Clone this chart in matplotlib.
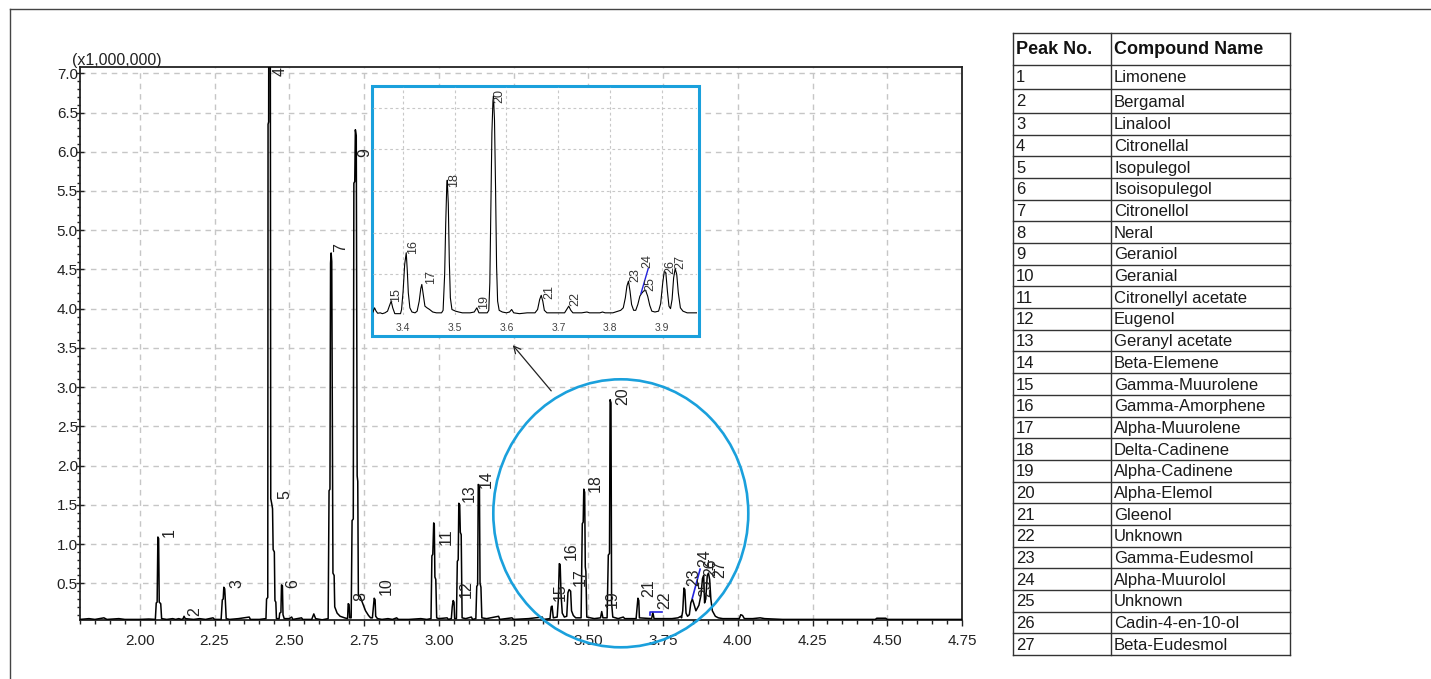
import matplotlib
matplotlib.use('Agg')
import matplotlib.pyplot as plt
from matplotlib.patches import Rectangle, Ellipse
from matplotlib.ticker import MultipleLocator

plt.rcParams['font.family'] = ['Liberation Sans', 'DejaVu Sans']

# Chromatogram, retention time (min) vs intensity (x1,000,000)
main_trace = [
    (1.800, 0.04), (1.830, 0.05), (1.850, 0.04), (1.880, 0.06), (1.890, 0.04), (1.930, 0.05), (1.950, 0.04),
    (2.000, 0.04), (2.030, 0.045),
    # peak 1
    (2.052, 0.04), (2.055, 0.25), (2.058, 0.26), (2.0605, 1.09), (2.063, 1.07), (2.065, 0.26), (2.070, 0.24),
    (2.073, 0.05), (2.090, 0.04), (2.110, 0.05), (2.120, 0.04), (2.130, 0.05), (2.140, 0.04),
    # peak 2
    (2.145, 0.05), (2.148, 0.08), (2.152, 0.05), (2.180, 0.04), (2.200, 0.05), (2.220, 0.04), (2.245, 0.06),
    (2.250, 0.04),
    # peak 3
    (2.272, 0.04), (2.276, 0.29), (2.279, 0.30), (2.281, 0.45), (2.284, 0.43), (2.286, 0.29), (2.289, 0.05),
    (2.300, 0.04), (2.330, 0.05), (2.366, 0.07), (2.370, 0.04), (2.400, 0.04), (2.420, 0.05),
    # peaks 4 and 5
    (2.422, 0.05), (2.424, 0.30), (2.428, 0.32), (2.429, 6.35), (2.431, 6.38), (2.432, 9.50), (2.436, 9.50),
    (2.438, 1.58), (2.441, 1.52), (2.444, 1.45), (2.446, 0.93), (2.450, 0.90), (2.452, 0.28), (2.455, 0.26),
    (2.457, 0.05),
    # peak 6
    (2.466, 0.05), (2.468, 0.12), (2.472, 0.13), (2.474, 0.48), (2.477, 0.47), (2.479, 0.10), (2.483, 0.05),
    (2.500, 0.05), (2.508, 0.07), (2.512, 0.04), (2.541, 0.06), (2.545, 0.04), (2.575, 0.04), (2.582, 0.11),
    (2.588, 0.05), (2.610, 0.035),
    # peak 7
    (2.630, 0.05), (2.633, 1.68), (2.636, 1.70), (2.638, 4.58), (2.640, 4.71), (2.642, 4.60), (2.646, 0.63),
    (2.650, 0.60), (2.652, 0.20), (2.660, 0.12), (2.670, 0.08), (2.685, 0.06),
    (2.695, 0.05), (2.697, 0.24), (2.700, 0.23), (2.702, 0.06),
    # peaks 9 and 8
    (2.707, 0.06), (2.710, 1.30), (2.714, 1.32), (2.716, 5.60), (2.719, 5.62), (2.721, 6.28), (2.724, 6.20),
    (2.727, 1.87), (2.729, 1.80), (2.731, 0.35), (2.737, 0.33), (2.745, 0.25), (2.755, 0.15), (2.765, 0.09),
    (2.772, 0.06),
    # peak 10
    (2.778, 0.06), (2.781, 0.18), (2.784, 0.31), (2.787, 0.29), (2.789, 0.08), (2.795, 0.05),
    (2.810, 0.04), (2.830, 0.05), (2.845, 0.04), (2.859, 0.06), (2.865, 0.04), (2.900, 0.04), (2.940, 0.05),
    (2.960, 0.04),
    # peak 11
    (2.974, 0.05), (2.977, 0.85), (2.980, 0.87), (2.983, 1.27), (2.985, 1.25), (2.987, 0.58), (2.990, 0.55),
    (2.993, 0.06), (3.000, 0.05), (3.028, 0.06), (3.032, 0.04),
    # peak 12
    (3.042, 0.05), (3.045, 0.20), (3.048, 0.28), (3.051, 0.26), (3.053, 0.05),
    # peak 13
    (3.059, 0.05), (3.062, 0.78), (3.065, 0.80), (3.067, 1.52), (3.070, 1.50), (3.072, 1.15), (3.075, 1.12),
    (3.078, 0.06), (3.090, 0.05), (3.109, 0.07), (3.113, 0.04),
    # peak 14
    (3.124, 0.05), (3.127, 0.46), (3.130, 0.48), (3.132, 1.76), (3.136, 1.74), (3.138, 0.50), (3.141, 0.45),
    (3.144, 0.06), (3.160, 0.05), (3.200, 0.08), (3.204, 0.04), (3.245, 0.06), (3.250, 0.04), (3.300, 0.05),
    (3.346, 0.07), (3.350, 0.04),
    # peaks 15-17
    (3.372, 0.05), (3.376, 0.20), (3.379, 0.21), (3.383, 0.06), (3.396, 0.07), (3.400, 0.30), (3.403, 0.75),
    (3.406, 0.74), (3.409, 0.35), (3.413, 0.12), (3.420, 0.07), (3.428, 0.08), (3.432, 0.38), (3.436, 0.42),
    (3.441, 0.40), (3.444, 0.15), (3.450, 0.09), (3.458, 0.06),
    # peak 18
    (3.476, 0.06), (3.480, 1.26), (3.483, 1.28), (3.485, 1.70), (3.488, 1.66), (3.490, 0.71), (3.492, 0.65),
    (3.495, 0.07), (3.520, 0.05),
    # peak 19
    (3.541, 0.06), (3.545, 0.14), (3.549, 0.06),
    # peak 20
    (3.563, 0.06), (3.567, 0.86), (3.571, 0.88), (3.573, 2.84), (3.576, 2.80), (3.578, 0.25), (3.582, 0.07),
    (3.600, 0.05), (3.617, 0.07), (3.622, 0.05), (3.650, 0.05),
    # peaks 21 and 22
    (3.660, 0.05), (3.663, 0.18), (3.666, 0.31), (3.669, 0.28), (3.671, 0.06), (3.712, 0.05), (3.716, 0.13),
    (3.720, 0.05), (3.750, 0.05), (3.780, 0.05), (3.800, 0.06), (3.810, 0.08),
    # peaks 23-27
    (3.812, 0.06), (3.816, 0.15), (3.820, 0.44), (3.823, 0.42), (3.827, 0.12), (3.832, 0.08), (3.838, 0.10),
    (3.843, 0.25), (3.848, 0.30), (3.853, 0.24), (3.860, 0.15), (3.870, 0.22), (3.877, 0.35), (3.882, 0.56),
    (3.886, 0.60), (3.889, 0.25), (3.893, 0.30), (3.898, 0.60), (3.902, 0.63), (3.906, 0.55), (3.910, 0.30),
    (3.915, 0.15), (3.925, 0.08), (3.935, 0.06), (3.950, 0.05),
    (3.980, 0.05), (4.005, 0.05), (4.010, 0.10), (4.016, 0.09), (4.022, 0.05), (4.050, 0.05), (4.075, 0.06),
    (4.090, 0.05), (4.150, 0.04), (4.250, 0.04), (4.350, 0.04), (4.460, 0.04), (4.465, 0.055), (4.495, 0.055),
    (4.500, 0.04), (4.600, 0.04), (4.750, 0.04),
]

# Enlarged view 3.34-3.97 min (own intensity scale)
inset_trace = [
    (3.343, 0.05), (3.346, 0.10), (3.349, 0.06), (3.352, 0.035), (3.357, 0.04), (3.361, 0.03), (3.366, 0.04),
    (3.371, 0.06), (3.375, 0.13), (3.378, 0.18), (3.381, 0.10), (3.385, 0.03), (3.390, 0.03), (3.396, 0.03),
    (3.398, 0.08), (3.401, 0.30), (3.404, 0.62), (3.407, 0.76), (3.409, 0.55), (3.411, 0.28), (3.414, 0.10),
    (3.418, 0.05), (3.424, 0.04),
    (3.428, 0.06), (3.432, 0.18), (3.435, 0.33), (3.437, 0.38), (3.440, 0.25), (3.443, 0.12), (3.447, 0.10),
    (3.452, 0.08), (3.458, 0.05), (3.465, 0.04), (3.475, 0.04),
    (3.478, 0.07), (3.481, 0.50), (3.483, 1.10), (3.485, 1.55), (3.486, 1.63), (3.488, 1.35), (3.490, 0.65),
    (3.492, 0.22), (3.495, 0.08), (3.502, 0.06), (3.508, 0.05), (3.515, 0.04), (3.530, 0.04), (3.538, 0.05),
    (3.543, 0.10), (3.547, 0.04), (3.555, 0.04), (3.563, 0.04),
    (3.566, 0.07), (3.568, 0.40), (3.570, 1.30), (3.572, 2.20), (3.574, 2.58), (3.575, 2.64), (3.577, 2.35),
    (3.579, 1.55), (3.581, 0.60), (3.583, 0.18), (3.586, 0.07), (3.592, 0.05), (3.600, 0.04), (3.606, 0.05),
    (3.610, 0.08), (3.614, 0.04), (3.625, 0.03), (3.640, 0.04), (3.655, 0.04),
    (3.660, 0.08), (3.664, 0.20), (3.667, 0.25), (3.670, 0.18), (3.673, 0.07), (3.678, 0.04), (3.700, 0.04),
    (3.712, 0.04), (3.716, 0.08), (3.720, 0.12), (3.724, 0.07), (3.728, 0.04), (3.745, 0.04), (3.755, 0.05),
    (3.760, 0.04), (3.780, 0.04), (3.785, 0.05), (3.790, 0.04), (3.805, 0.04), (3.815, 0.06), (3.820, 0.07),
    (3.825, 0.10),
    (3.829, 0.22), (3.832, 0.36), (3.835, 0.42), (3.838, 0.30), (3.841, 0.14), (3.845, 0.07), (3.849, 0.07),
    (3.853, 0.14), (3.857, 0.24), (3.860, 0.27), (3.864, 0.30), (3.868, 0.31), (3.872, 0.24), (3.876, 0.13),
    (3.880, 0.06), (3.886, 0.05), (3.893, 0.06),
    (3.897, 0.15), (3.901, 0.40), (3.904, 0.54), (3.907, 0.52), (3.910, 0.30), (3.913, 0.12), (3.916, 0.09),
    (3.919, 0.20), (3.922, 0.46), (3.925, 0.57), (3.928, 0.50), (3.931, 0.28), (3.935, 0.10), (3.940, 0.06),
    (3.948, 0.04), (3.967, 0.04),
]

# blue integration marks
main_blue = [[(3.707, 0.10), (3.707, 0.13), (3.746, 0.13)], [(3.848, 0.31), (3.874, 0.68)]]
inset_blue = [[(3.859, 0.27), (3.873, 0.57)]]

peak_numbers = [str(i) for i in range(1, 28)]
compound_names = [
    'Limonene', 'Bergamal', 'Linalool', 'Citronellal', 'Isopulegol', 'Isoisopulegol', 'Citronellol', 'Neral',
    'Geraniol', 'Geranial', 'Citronellyl acetate', 'Eugenol', 'Geranyl acetate', 'Beta-Elemene',
    'Gamma-Muurolene', 'Gamma-Amorphene', 'Alpha-Muurolene', 'Delta-Cadinene', 'Alpha-Cadinene',
    'Alpha-Elemol', 'Gleenol', 'Unknown', 'Gamma-Eudesmol', 'Alpha-Muurolol', 'Unknown', 'Cadin-4-en-10-ol',
    'Beta-Eudesmol',
]

main_xticks = [2.00, 2.25, 2.50, 2.75, 3.00, 3.25, 3.50, 3.75, 4.00, 4.25, 4.50, 4.75]
main_yticks = [0.5, 1.0, 1.5, 2.0, 2.5, 3.0, 3.5, 4.0, 4.5, 5.0, 5.5, 6.0, 6.5, 7.0]
inset_xticks = [3.4, 3.5, 3.6, 3.7, 3.8, 3.9]
inset_yticks = [0.5, 1.0, 1.5, 2.0, 2.5]

# peak number label anchors (layout)
main_label_pos = [
    (2.100, 1.09), (2.184, 0.08), (2.324, 0.44), (2.471, 6.96), (2.484, 1.58), (2.513, 0.44), (2.671, 4.72),
    (2.739, 0.27), (2.752, 5.93), (2.823, 0.35), (3.025, 0.99), (3.093, 0.31), (3.103, 1.54), (3.160, 1.71),
    (3.407, 0.27), (3.443, 0.80), (3.473, 0.46), (3.524, 1.67), (3.579, 0.18), (3.616, 2.77), (3.701, 0.33),
    (3.756, 0.17), (3.852, 0.46), (3.888, 0.71), (3.894, 0.33), (3.910, 0.59), (3.940, 0.57),
]
inset_label_pos = [
    (3.388, 0.17), (3.420, 0.75), (3.454, 0.39), (3.500, 1.55), (3.557, 0.09), (3.587, 2.56), (3.682, 0.21),
    (3.732, 0.12), (3.849, 0.41), (3.871, 0.58), (3.877, 0.30), (3.916, 0.51), (3.935, 0.57),
]

W, H = 1431, 679
BLUE = '#1aa0dc'
INK = '#222222'

fig = plt.figure(figsize=(W / 100, H / 100), dpi=100)

# main chromatogram
ax = fig.add_axes([80 / W, 1 - 620 / H, 882 / W, 553 / H])
ax.set_zorder(0)
t, v = zip(*main_trace)
ax.plot(t, v, color='black', lw=1.1, zorder=3)
for seg in main_blue:
    bt, bv = zip(*seg)
    ax.plot(bt, bv, color='#2222dd', lw=1.2, zorder=4)
for lab, (lx, ly) in zip(peak_numbers, main_label_pos):
    ax.text(lx, ly, lab, rotation=90, ha='center', va='bottom', fontsize=11.5, color=INK, zorder=5)

ax.set_xlim(1.80, 4.75)
ax.set_ylim(0.0325, 7.08)
ax.set_xticks(main_xticks)
ax.set_xticklabels(['%.2f' % x for x in main_xticks])
ax.set_yticks(main_yticks)
ax.set_yticklabels(['%.1f' % y for y in main_yticks])
ax.xaxis.set_minor_locator(MultipleLocator(0.05))
ax.yaxis.set_minor_locator(MultipleLocator(0.1))
ax.grid(True, which='major', color='#c6c6c6', linestyle=(0, (4, 3.5)), linewidth=1)
ax.tick_params(axis='x', which='major', direction='out', length=4, width=1, color=INK,
               labelsize=11, labelcolor=INK, pad=6)
ax.tick_params(axis='x', which='minor', direction='out', length=3, width=1, color=INK)
ax.tick_params(axis='y', which='major', direction='inout', length=6, width=1, color=INK,
               labelsize=11, labelcolor=INK, pad=-1.5)
ax.tick_params(axis='y', which='minor', direction='out', length=2.2, width=1, color=INK)
for s in ax.spines.values():
    s.set_color(INK)
    s.set_linewidth(1.3)

# overlay canvas in pixel coordinates
cv = fig.add_axes([0, 0, 1, 1])
cv.set_zorder(1)
cv.set_xlim(0, W)
cv.set_ylim(H, 0)
cv.set_axis_off()

cv.plot([10, 10], [9, H], color='#444444', lw=1)
cv.plot([10, W], [9, 9], color='#444444', lw=1)
cv.text(72, 60.5, '(x1,000,000)', ha='left', va='center', fontsize=11.5, color=INK)

cv.add_patch(Rectangle((371.5, 85.5), 327, 250, facecolor='white', edgecolor=BLUE, lw=2.2))
cv.add_patch(Ellipse((620.8, 513.3), 255, 268, facecolor='none', edgecolor=BLUE, lw=1.9))
cv.annotate('', xy=(511, 343), xytext=(553, 393),
            arrowprops=dict(arrowstyle='->,head_length=0.5,head_width=0.25', lw=0.9, color=INK))

# table
col_x = [1013, 1111, 1290]
row_y = [33, 65, 89, 113] + [113 + 21.68 * k for k in range(1, 26)]
for yy in row_y:
    cv.plot([col_x[0], col_x[2]], [yy, yy], color='#333333', lw=1)
for xx in col_x:
    cv.plot([xx, xx], [row_y[0], row_y[-1]], color='#333333', lw=1)
cv.text(col_x[0] + 3, (row_y[0] + row_y[1]) / 2 + 1, 'Peak No.', ha='left', va='center',
        fontsize=13, fontweight='bold', color='#111111')
cv.text(col_x[1] + 3, (row_y[0] + row_y[1]) / 2 + 1, 'Compound Name', ha='left', va='center',
        fontsize=13, fontweight='bold', color='#111111')
for i, (num, name) in enumerate(zip(peak_numbers, compound_names)):
    yc = (row_y[i + 1] + row_y[i + 2]) / 2 + 1
    cv.text(col_x[0] + 3, yc, num, ha='left', va='center', fontsize=12, color='#1a1a1a')
    cv.text(col_x[1] + 3, yc, name, ha='left', va='center', fontsize=12, color='#1a1a1a')

# inset (enlarged view)
ins = fig.add_axes([373 / W, 1 - 315 / H, 324 / W, 228 / H])
ins.set_zorder(2)
ins.patch.set_alpha(0)
it, iv = zip(*inset_trace)
ins.plot(it, iv, color='black', lw=0.8, zorder=3)
for seg in inset_blue:
    bt, bv = zip(*seg)
    ins.plot(bt, bv, color='#2222dd', lw=1.0, zorder=4)
for lab, (lx, ly) in zip(peak_numbers[14:], inset_label_pos):
    ins.text(lx, ly, lab, rotation=90, ha='center', va='bottom', fontsize=9, color='#333333', zorder=5)
ins.set_xlim(3.343, 3.967)
ins.set_ylim(0.014, 2.747)
ins.set_xticks(inset_xticks)
ins.set_xticklabels(['%.1f' % x for x in inset_xticks])
ins.set_yticks(inset_yticks)
ins.grid(True, color='#c8c8c8', linestyle=(0, (2.5, 2.5)), linewidth=0.8)
ins.tick_params(axis='x', length=0, labelsize=7.5, labelcolor='#444444', pad=6)
ins.tick_params(axis='y', length=0, labelleft=False)
for s in ins.spines.values():
    s.set_visible(False)

fig.savefig('out.png', dpi=100)
